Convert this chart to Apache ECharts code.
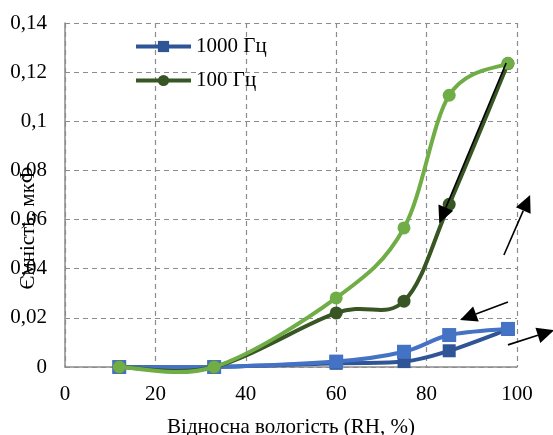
<!DOCTYPE html>
<html><head><meta charset="utf-8">
<script src="https://cdn.jsdelivr.net/npm/echarts@6/dist/echarts.min.js"></script>
<style>html,body{margin:0;padding:0;background:#fff}#c{width:553px;height:435px}</style>
</head><body><div id="c"></div>
<script>
const rh = [12, 33, 60, 75, 85, 98];
const blueDark = [0, 0, 0.0015, 0.0022, 0.0066, 0.0153];
const blueLight = [0, 0, 0.0022, 0.0062, 0.0130, 0.0155];
const greenDark = [0, 0, 0.022, 0.0268, 0.0662, 0.1235];
const greenLight = [0, 0, 0.0281, 0.0566, 0.1106, 0.1236];
const xTicks = [0, 20, 40, 60, 80, 100];
const yTicks = [0, 0.02, 0.04, 0.06, 0.08, 0.1, 0.12, 0.14];
const arrows = [
  [97.1, 0.0456, 102.9, 0.070],
  [98.0, 0.0265, 87.4, 0.0191],
  [98.0, 0.0090, 108.2, 0.0150],
  [97.6, 0.1237, 82.8, 0.0585]
];
const FONT = '"Liberation Serif", "Times New Roman", serif';
const pairs = ys => rh.map((x, i) => [x, ys[i]]);

// Excel-style smoothed curve (Catmull-Rom Bezier in pixel space)
function curveSeries(ys, color, z) {
  return {
    type: 'custom', silent: true, z: z, clip: false,
    data: pairs(ys),
    encode: {x: 0, y: 1},
    renderItem: (params, api) => {
      if (params.dataIndex !== 0) return null;
      const p = rh.map((x, i) => api.coord([x, ys[i]]));
      const n = p.length, children = [];
      const k = 1 / 6;
      for (let i = 0; i < n - 1; i++) {
        const a = p[Math.max(i - 1, 0)], b = p[i], c = p[i + 1], d = p[Math.min(i + 2, n - 1)];
        children.push({
          type: 'bezierCurve',
          shape: {x1: b[0], y1: b[1], x2: c[0], y2: c[1],
            cpx1: b[0] + (c[0] - a[0]) * k, cpy1: b[1] + (c[1] - a[1]) * k,
            cpx2: c[0] - (d[0] - b[0]) * k, cpy2: c[1] - (d[1] - b[1]) * k},
          style: {stroke: color, lineWidth: 4, fill: null, lineCap: 'round'}
        });
      }
      return {type: 'group', children};
    }
  };
}
function markerSeries(name, ys, symbol, size, color, z) {
  return {name, type: 'line', data: pairs(ys), symbol, symbolSize: size, z: z,
    color: color, lineStyle: {opacity: 0, width: 4, color: color},
    itemStyle: {color: color}};
}

const chart = echarts.init(document.getElementById('c'));
chart.setOption({
  animation: false,
  textStyle: {fontFamily: FONT},
  grid: {left: 65, right: 36, top: 23, bottom: 68, containLabel: false, outerBoundsMode: 'none'},
  legend: {
    orient: 'vertical', left: 134, top: 36, itemWidth: 55, itemHeight: 14, itemGap: 13, padding: 0,
    data: [
      {name: '1000 Гц', lineStyle: {opacity: 1, width: 4, color: '#2F5597'}},
      {name: '100 Гц', lineStyle: {opacity: 1, width: 4, color: '#375623'}}
    ],
    textStyle: {fontFamily: FONT, fontSize: 21, color: '#000'}
  },
  xAxis: {
    type: 'value', min: 0, max: 100, interval: 20,
    name: 'Відносна вологість (RH, %)', nameLocation: 'middle', nameGap: 50,
    nameTextStyle: {fontFamily: FONT, fontSize: 21, color: '#000'},
    axisLine: {lineStyle: {color: '#8c8c8c', width: 1.5}},
    axisTick: {show: false},
    axisLabel: {fontFamily: FONT, fontSize: 21, color: '#000', margin: 17},
    splitLine: {show: true, lineStyle: {color: '#8c8c8c', type: [5, 4], width: 1.2}}
  },
  yAxis: {
    type: 'value', min: 0, max: 0.14, interval: 0.02,
    axisLine: {show: true, lineStyle: {color: '#8c8c8c', width: 1.5}},
    axisTick: {show: false},
    axisLabel: {fontFamily: FONT, fontSize: 21, color: '#000', margin: 18,
      formatter: v => String(Number(v.toFixed(2))).replace('.', ',')},
    splitLine: {show: true, lineStyle: {color: '#8c8c8c', type: [5, 4], width: 1.2}}
  },
  graphic: [{
    type: 'text', x: 28, y: 228, rotation: Math.PI / 2, z: 100,
    style: {text: 'Ємність, мкФ', font: '21px "Liberation Serif"', fill: '#000',
      align: 'center', verticalAlign: 'middle'}
  }],
  series: [
    curveSeries(blueDark, '#2F5597', 2),
    markerSeries('1000 Гц', blueDark, 'rect', 13, '#2F5597', 3),
    curveSeries(blueLight, '#4472C4', 4),
    markerSeries('1000 Гц (2)', blueLight, 'rect', 14, '#4472C4', 5),
    curveSeries(greenDark, '#375623', 6),
    markerSeries('100 Гц', greenDark, 'circle', 13, '#375623', 7),
    curveSeries(greenLight, '#70AD47', 8),
    markerSeries('100 Гц (2)', greenLight, 'circle', 13, '#70AD47', 9),
    {
      type: 'custom', silent: true, z: 20, clip: false,
      data: arrows,
      encode: {x: [0, 2], y: [1, 3]},
      renderItem: (params, api) => {
        const s = api.coord([api.value(0), api.value(1)]);
        const e = api.coord([api.value(2), api.value(3)]);
        const ang = Math.atan2(e[1] - s[1], e[0] - s[0]);
        const L = 17, W = 8;
        const bx = e[0] - L * Math.cos(ang), by = e[1] - L * Math.sin(ang);
        const nx = -Math.sin(ang), ny = Math.cos(ang);
        return {type: 'group', children: [
          {type: 'line', shape: {x1: s[0], y1: s[1], x2: bx, y2: by},
            style: {stroke: '#000', lineWidth: 1.6}},
          {type: 'polygon', shape: {points: [[e[0], e[1]], [bx + nx * W, by + ny * W], [bx - nx * W, by - ny * W]]},
            style: {fill: '#000'}}
        ]};
      }
    }
  ]
});
</script></body></html>
